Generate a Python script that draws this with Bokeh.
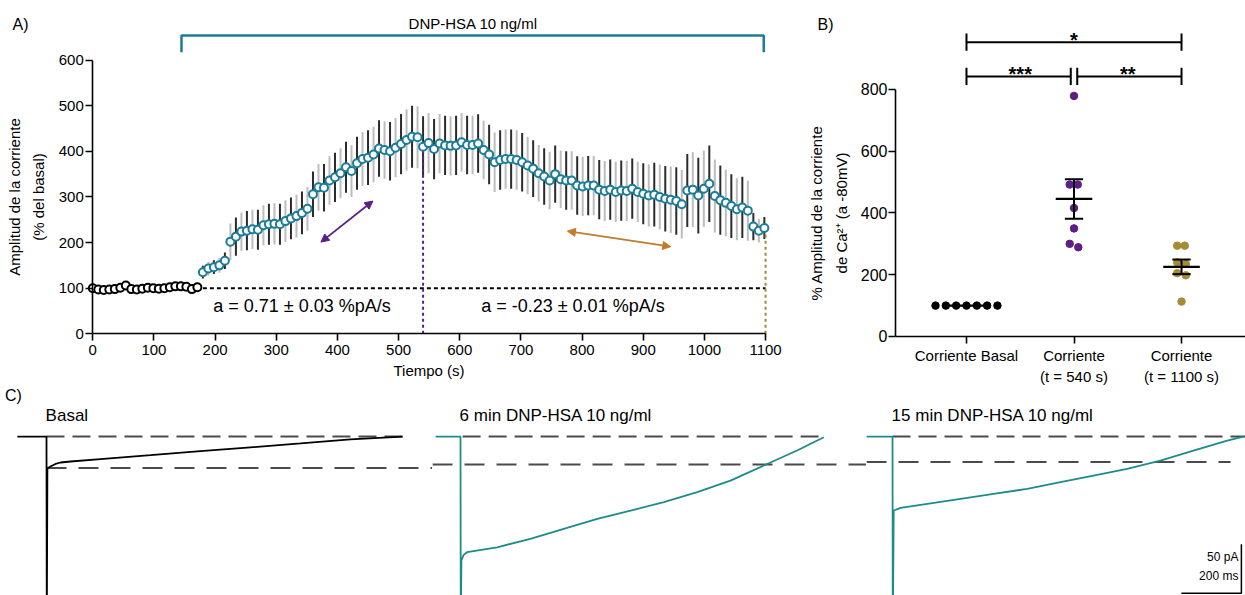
import numpy as np
from bokeh.plotting import figure
from bokeh.models import Range1d, FixedTicker, Label, Arrow, NormalHead, ColumnDataSource
from bokeh.layouts import row, column
from bokeh.embed import file_html
from bokeh.resources import INLINE
from bokeh.core.properties import value

FONT = "Liberation Sans"
BLUE = "#1b7c99"
PURPLE = "#5d1e86"
GOLD = "#a68b36"
ORANGE = "#c27a2e"
TEAL = "#1d8c89"

# ---------------- Panel A data ----------------
time_s = [0, 9, 18, 27, 36, 45, 54, 63, 72, 81, 90, 99, 108, 117, 126, 135, 144, 153, 162, 171,
          180, 189, 198, 207, 216, 225, 234, 243, 252, 261, 270, 279, 288, 297, 306, 315, 324, 333, 342, 351,
          360, 369, 378, 387, 396, 405, 414, 423, 432, 441, 450, 459, 468, 477, 486, 495, 504, 513, 522, 531,
          540, 549, 558, 567, 576, 585, 594, 603, 612, 621, 630, 639, 648, 657, 666, 675, 684, 693, 702, 711,
          720, 729, 738, 747, 756, 765, 774, 783, 792, 801, 810, 819, 828, 837, 846, 855, 864, 873, 882, 891,
          900, 909, 918, 927, 936, 945, 954, 963, 972, 981, 990, 999, 1008, 1017, 1026, 1035, 1044, 1053, 1062, 1071,
          1080, 1089, 1098]
amp_pct = [100, 97, 96, 97, 98, 101, 106, 98, 97, 99, 101, 100, 99, 100, 102, 104, 104, 103, 98, 102,
           135, 143, 146, 150, 160, 202, 213, 224, 226, 229, 228, 238, 240, 241, 240, 247, 253, 258, 265, 274,
           306, 321, 320, 336, 343, 352, 365, 357, 374, 383, 386, 393, 406, 403, 400, 408, 416, 425, 432, 431,
           410, 418, 405, 417, 413, 412, 413, 420, 414, 414, 417, 403, 393, 376, 381, 383, 383, 381, 376, 369,
           362, 352, 345, 336, 350, 339, 336, 336, 325, 323, 325, 325, 316, 313, 316, 311, 314, 313, 318, 311,
           307, 303, 305, 300, 296, 294, 291, 284, 314, 316, 303, 318, 329, 302, 293, 287, 280, 273, 277, 270,
           235, 226, 232]
sem_pct = [0, 0, 0, 0, 0, 0, 0, 0, 0, 0, 0, 0, 0, 0, 0, 0, 0, 0, 0, 0,
           14, 15, 15, 16, 18, 40, 42, 42, 43, 43, 44, 44, 45, 45, 45, 46, 46, 47, 47, 48,
           50, 51, 52, 53, 54, 55, 56, 57, 58, 59, 60, 61, 62, 63, 64, 65, 66, 67, 68, 68,
           67, 66, 66, 65, 65, 65, 65, 64, 64, 64, 64, 64, 65, 65, 65, 65, 65, 65, 64, 63,
           62, 62, 62, 63, 63, 63, 64, 64, 64, 65, 65, 65, 65, 66, 66, 66, 66, 66, 66, 66,
           67, 68, 70, 71, 72, 73, 74, 75, 80, 82, 83, 84, 84, 80, 76, 73, 70, 68, 67, 66,
           30, 26, 24]
n_basal = 20
t_peak = 540
t_end = 1100
drug_start, drug_end = 145, 1097
drug_label = "DNP-HSA 10 ng/ml"
slope_up = "a = 0.71 ± 0.03 %pA/s"
slope_down = "a = -0.23 ± 0.01 %pA/s"

# ---------------- Panel B data ----------------
groups = ["Corriente Basal", "Corriente\n(t = 540 s)", "Corriente\n(t = 1100 s)"]
basal_vals = [100, 100, 100, 100, 100, 100, 100]
t540_vals = [779, 492, 492, 416, 350, 300, 289]
t1100_vals = [294, 294, 240, 235, 205, 198, 113]
jitter_basal = [-0.288, -0.192, -0.096, 0.0, 0.096, 0.192, 0.288]
jitter_540 = [0.0, -0.04, 0.035, 0.0, 0.0, -0.04, 0.04]
jitter_1100 = [-0.04, 0.03, -0.04, 0.04, -0.04, 0.04, 0.0]
sig_pairs = [(1, 3, "*"), (1, 2, "***"), (2, 3, "**")]

# ---------------- Panel C data (ms, pA) ----------------
basal_t = [-97, -3, 0, 1, 3, 13, 30, 47, 80, 180, 347, 513, 680, 847, 1013, 1187]
basal_pA = [0, 0, 0, -200, -32.7, -30.6, -28, -26.5, -25.5, -23, -19, -15, -11, -7, -3, 0]
min6_t = [-83, -3, 0, 1, 3, 10, 22, 122, 233, 344, 456, 567, 678, 789, 900, 1011, 1122, 1211]
min6_pA = [0, 0, 0, -200, -126.5, -121, -118, -113, -104.4, -94.2, -84, -75.5, -67, -56.8, -45, -29.6, -14.3, -0.7]
min15_t = [-87, -3, 0, 1, 4, 27, 116, 227, 337, 449, 560, 670, 782, 893, 1003, 1116, 1170]
min15_pA = [0, 0, 0, -200, -75.5, -72.8, -68.7, -63.6, -58.5, -53.4, -46.6, -39.8, -33, -24.5, -14.3, -4.1, 0]
basal_level = [-32, -28.5, -26]
trace_titles = ["Basal", "6 min DNP-HSA 10 ng/ml", "15 min DNP-HSA 10 ng/ml"]
scale_ms, scale_pA = 200, 50


def style_axes(p, tick_size="15px"):
    p.grid.grid_line_color = None
    p.outline_line_color = None
    for ax in p.axis:
        ax.axis_line_width = 1.6
        ax.axis_line_color = "black"
        ax.major_tick_line_width = 1.6
        ax.major_tick_line_color = "black"
        ax.major_tick_out = 7
        ax.major_tick_in = 0
        ax.minor_tick_line_color = None
        ax.major_label_text_font = FONT
        ax.major_label_text_font_size = tick_size
        ax.major_label_text_color = "black"
        ax.axis_label_text_font = FONT
        ax.axis_label_text_font_style = "normal"
        ax.axis_label_text_font_size = "15px"
        ax.axis_label_text_color = "black"


# ================= Panel A =================
pA = figure(width=800, height=388, x_range=Range1d(-150.9, 1157.1), y_range=Range1d(-119.9, 730.6),
            output_backend="svg", toolbar_location=None,
            min_border_left=0, min_border_right=0, min_border_top=0, min_border_bottom=0)
style_axes(pA)
pA.xaxis.bounds = (0, 1100)
pA.yaxis.bounds = (0, 600)
pA.yaxis.fixed_location = 0
pA.xaxis.fixed_location = 0
pA.xaxis.ticker = FixedTicker(ticks=list(range(0, 1101, 100)))
pA.yaxis.ticker = FixedTicker(ticks=list(range(0, 601, 100)))
pA.xaxis.axis_label = "Tiempo (s)"
pA.yaxis.axis_label = "Amplitud de la corriente\n(% del basal)"
pA.yaxis.axis_label_text_line_height = 1.45
pA.xaxis.major_label_standoff = 4
pA.xaxis.axis_label_standoff = 4
pA.yaxis.major_label_standoff = 2
pA.yaxis.axis_label_standoff = 8

t = np.array(time_s, dtype=float)
v = np.array(amp_pct, dtype=float)
s = np.array(sem_pct, dtype=float)
bar_colors = ["#2b2b2b" if i % 2 == 0 else "#bdbdbd" for i in range(len(t))]
bars = ColumnDataSource(dict(x=t[n_basal:], y0=(v - s)[n_basal:], y1=(v + s)[n_basal:],
                             c=bar_colors[n_basal:]))
pA.segment(x0="x", y0="y0", x1="x", y1="y1", source=bars, line_color="c", line_width=2)

# reference lines
pA.line([t[n_basal], t_end], [100, 100], line_color="black", line_width=2, line_dash="4 3")
i_pk = time_s.index(t_peak)
pA.line([t_peak, t_peak], [0, v[i_pk]], line_color=PURPLE, line_width=2, line_dash="3 3")
pA.line([t_end, t_end], [0, v[-1]], line_color=GOLD, line_width=2, line_dash="3 3")

pA.scatter(t[:n_basal], v[:n_basal], size=8, fill_color="white", line_color="black", line_width=2)
pA.scatter(t[n_basal:], v[n_basal:], size=8, fill_color="white", line_color=BLUE, line_width=2)

# treatment bracket
pA.line([drug_start, drug_start, drug_end, drug_end], [617, 654, 654, 617], line_color=BLUE, line_width=2.5)
pA.add_layout(Label(x=622, y=681, text=drug_label, text_align="center", text_baseline="middle",
                    text_font=FONT, text_font_size="15px", text_color="black"))
pA.add_layout(Label(x=-118, y=678, text="A)", text_align="center", text_baseline="middle",
                    text_font=FONT, text_font_size="16px", text_color="black"))

pA.add_layout(Arrow(start=NormalHead(size=8, fill_color=PURPLE, line_color=PURPLE),
                    end=NormalHead(size=8, fill_color=PURPLE, line_color=PURPLE),
                    x_start=373, y_start=201, x_end=458, y_end=291, line_color=PURPLE, line_width=1.8))
pA.add_layout(Arrow(start=NormalHead(size=8, fill_color=ORANGE, line_color=ORANGE),
                    end=NormalHead(size=8, fill_color=ORANGE, line_color=ORANGE),
                    x_start=776, y_start=225, x_end=945, y_end=191, line_color=ORANGE, line_width=1.8))
pA.add_layout(Label(x=342, y=62, text=slope_up, text_align="center", text_baseline="middle",
                    text_font=FONT, text_font_size="18px", text_color="black"))
pA.add_layout(Label(x=785, y=62, text=slope_down, text_align="center", text_baseline="middle",
                    text_font=FONT, text_font_size="18px", text_color="black"))

# ================= Panel B =================
B_AX = 0.34
pB = figure(width=445, height=388, x_range=Range1d(-0.5437, 3.595), y_range=Range1d(-168.4, 1088),
            output_backend="svg", toolbar_location=None,
            min_border_left=0, min_border_right=0, min_border_top=0, min_border_bottom=0)
style_axes(pB, tick_size="16px")
pB.yaxis.bounds = (0, 800)
pB.yaxis.fixed_location = B_AX
pB.xaxis.fixed_location = 0
pB.xaxis.bounds = (B_AX, 3.595)
pB.yaxis.ticker = FixedTicker(ticks=[0, 200, 400, 600, 800])
pB.xaxis.ticker = FixedTicker(ticks=[1, 2, 3])
pB.xaxis.major_label_overrides = {1: groups[0], 2: groups[1], 3: groups[2]}
pB.xaxis.major_label_text_font_size = "15px"
pB.xaxis.major_label_standoff = 4
pB.yaxis.major_label_standoff = 1
pB.yaxis.axis_label = "% Amplitud de la corriente\nde Ca²⁺ (a -80mV)"
pB.yaxis.axis_label_text_line_height = 1.45
pB.yaxis.axis_label_standoff = 8

group_vals = [basal_vals, t540_vals, t1100_vals]
group_jit = [jitter_basal, jitter_540, jitter_1100]
group_cols = ["black", PURPLE, GOLD]
for gi, (vals, jit, col) in enumerate(zip(group_vals, group_jit, group_cols)):
    xc = gi + 1
    arr = np.array(vals, dtype=float)
    m = arr.mean()
    se = arr.std(ddof=1) / np.sqrt(len(arr))
    pB.scatter([xc + j for j in jit], arr, size=7.5, fill_color=col, line_color=col)
    pB.segment(x0=[xc - 0.17], y0=[m], x1=[xc + 0.17], y1=[m], line_color="black", line_width=2.2)
    if se > 0:
        pB.segment(x0=[xc], y0=[m - se], x1=[xc], y1=[m + se], line_color="black", line_width=2)
        pB.segment(x0=[xc - 0.085, xc - 0.085], y0=[m - se, m + se], x1=[xc + 0.085, xc + 0.085],
                   y1=[m - se, m + se], line_color="black", line_width=2)

sig_levels = {(1, 3): 953, (1, 2): 842, (2, 3): 842}
sig_gap = {(1, 3): (0, 0), (1, 2): (0, 0.03), (2, 3): (0.03, 0)}
for a, b, stars in sig_pairs:
    yv = sig_levels[(a, b)]
    ga, gb = sig_gap[(a, b)]
    xa, xb = a + ga, b - gb
    pB.segment(x0=[xa], y0=[yv], x1=[xb], y1=[yv], line_color="black", line_width=2)
    pB.segment(x0=[xa, xb], y0=[yv - 28, yv - 28], x1=[xa, xb], y1=[yv + 28, yv + 28],
               line_color="black", line_width=2)
    pB.text(x=[(a + b) / 2], y=[yv + 8], text=[stars], text_align="center", text_baseline="alphabetic",
            text_font=value(FONT), text_font_size="20px", text_font_style="bold", text_color="black")
pB.add_layout(Label(x=-0.311, y=1010, text="B)", text_align="center", text_baseline="middle",
                    text_font=FONT, text_font_size="16px", text_color="black"))


# ================= Panel C =================
def trace_fig(width, x0, x1):
    p = figure(width=width, height=207, x_range=Range1d(x0, x1), y_range=Range1d(-162.2, 49.0),
               x_axis_type=None, y_axis_type=None, output_backend="svg", toolbar_location=None,
               min_border=0, min_border_left=0, min_border_right=0, min_border_top=0, min_border_bottom=0)
    p.grid.grid_line_color = None
    p.outline_line_color = None
    return p


c1 = trace_fig(432, -153.3, 1286.7)
c2 = trace_fig(434, -93.3, 1353.3)
c3 = trace_fig(379, -86.7, 1176.7)

traces = [(c1, basal_t, basal_pA, "black"), (c2, min6_t, min6_pA, TEAL), (c3, min15_t, min15_pA, TEAL)]
upper_ext = [(0, basal_t[-1]), (7, min6_t[-1]), (0, 1176.7)]
lower_ext = [(0, 1286.7), (-93.3, 1353.3), (-86.7, 1127)]
for k, (p, tt, yy, col) in enumerate(traces):
    p.line([upper_ext[k][0], upper_ext[k][1]], [0, 0], line_color="#4a4a4a", line_width=2, line_dash="18 8")
    p.line([lower_ext[k][0], lower_ext[k][1]], [basal_level[k], basal_level[k]], line_color="#4a4a4a",
           line_width=2, line_dash="20 12")
    p.line(tt, yy, line_color=col, line_width=1.8)
    p.add_layout(Label(x=-3, y=21, text=trace_titles[k], text_align="left", text_baseline="middle",
                       text_font=FONT, text_font_size="17px", text_color="black"))

c1.add_layout(Label(x=-110, y=41.5, text="C)", text_align="center", text_baseline="middle",
                    text_font=FONT, text_font_size="16px", text_color="black"))

# scale bar
sb_x, sb_y = 1163, -160
c3.line([sb_x - scale_ms, sb_x, sb_x], [sb_y, sb_y, sb_y + scale_pA], line_color="black", line_width=1.5)
c3.add_layout(Label(x=sb_x - 10, y=-123, text=f"{scale_pA} pA", text_align="right", text_baseline="middle",
                    text_font=FONT, text_font_size="12px", text_color="black"))
c3.add_layout(Label(x=sb_x - 10, y=-142, text=f"{scale_ms} ms", text_align="right", text_baseline="middle",
                    text_font=FONT, text_font_size="12px", text_color="black"))

layout = column(row(pA, pB, spacing=0), row(c1, c2, c3, spacing=0), spacing=0)
open("out.html", "w").write(file_html(layout, INLINE))
